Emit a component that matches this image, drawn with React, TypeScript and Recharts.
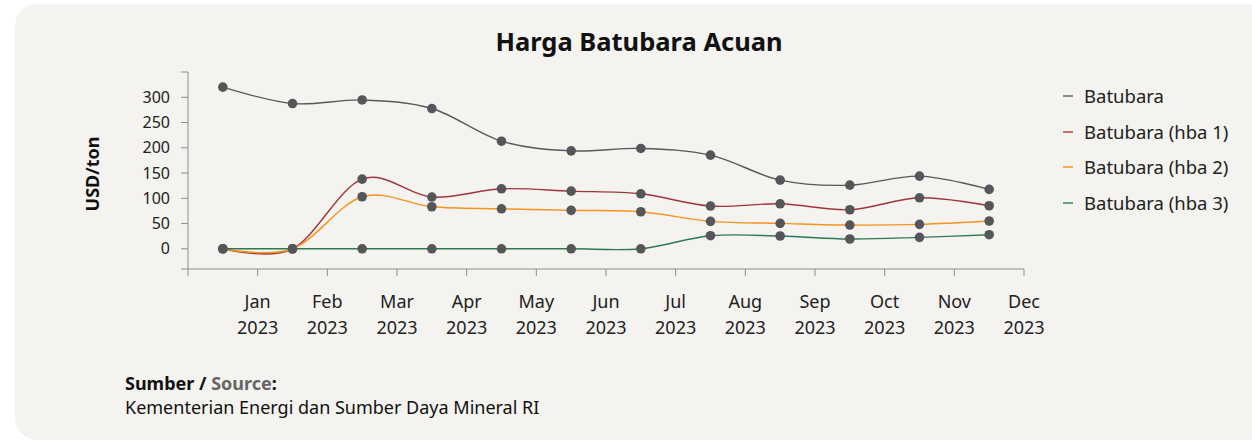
import { LineChart, Line, XAxis, YAxis } from "recharts";

const MONTHS = ["Jan", "Feb", "Mar", "Apr", "May", "Jun", "Jul", "Aug", "Sep", "Oct", "Nov", "Dec"];
const YEAR = "2023";

const BATUBARA = [320, 287.5, 294.7, 277.7, 213, 193.9, 198.6, 185.4, 136, 126, 143.9, 117.6];
const HBA1 = [0, 0, 138, 102.4, 118.8, 114.2, 108.9, 84.6, 89.1, 77.3, 101, 85.2];
const HBA2 = [0, 0, 103, 83.2, 79.2, 76.1, 73.3, 54.3, 50.4, 47, 48.4, 55];
const HBA3 = [0, 0, 0, 0, 0, 0, 0, 25.9, 25.3, 19.4, 22.7, 27.9];

const Y_TICKS = [-40, 0, 50, 100, 150, 200, 250, 300, 350];
const X_TICKS = [0, 1, 2, 3, 4, 5, 6, 7, 8, 9, 10, 11, 12];

const SERIES = [
  { key: "batubara", name: "Batubara", color: "#58585a", legend: "#8c8c8c" },
  { key: "hba1", name: "Batubara (hba 1)", color: "#a0363b", legend: "#c9706f" },
  { key: "hba2", name: "Batubara (hba 2)", color: "#f7931e", legend: "#f9ad55" },
  { key: "hba3", name: "Batubara (hba 3)", color: "#2c7a50", legend: "#62a182" },
];

const data = MONTHS.map((m, i) => ({
  pos: i + 0.5,
  month: m,
  batubara: BATUBARA[i],
  hba1: HBA1[i],
  hba2: HBA2[i],
  hba3: HBA3[i],
}));

const FONT = "'Noto Sans', 'Open Sans', sans-serif";

// catmull-rom style cardinal curve (tension 0), same maths as d3's curveCardinal
function cardinal(context: any) {
  const k = 1 / 6;
  let x0 = NaN, x1 = NaN, x2 = NaN, y0 = NaN, y1 = NaN, y2 = NaN;
  let pt = 0;
  let line: number = NaN;
  const seg = (x: number, y: number) => {
    context.bezierCurveTo(
      x1 + k * (x2 - x0),
      y1 + k * (y2 - y0),
      x2 + k * (x1 - x),
      y2 + k * (y1 - y),
      x2,
      y2
    );
  };
  return {
    areaStart() { line = 0; },
    areaEnd() { line = NaN; },
    lineStart() {
      x0 = x1 = x2 = y0 = y1 = y2 = NaN;
      pt = 0;
    },
    lineEnd() {
      if (pt === 2) context.lineTo(x2, y2);
      else if (pt === 3) seg(x1, y1);
      if (line || (line !== 0 && pt === 1)) context.closePath();
      line = 1 - line;
    },
    point(x: number, y: number) {
      x = +x; y = +y;
      if (pt === 0) {
        pt = 1;
        line ? context.lineTo(x, y) : context.moveTo(x, y);
      } else if (pt === 1) {
        pt = 2;
        x1 = x; y1 = y;
      } else {
        if (pt === 2) pt = 3;
        seg(x, y);
      }
      x0 = x1; x1 = x2; x2 = x;
      y0 = y1; y1 = y2; y2 = y;
    },
  };
}

const MonthTick = ({ x, y, payload }: any) => {
  if (payload.value === 0) return null;
  const m = MONTHS[payload.value - 1];
  return (
    <g>
      <text x={x} y={y + 30} textAnchor="middle" fontSize={18} fill="#222" fontFamily={FONT}>
        {m}
      </text>
      <text x={x} y={y + 56} textAnchor="middle" fontSize={18} fill="#222" fontFamily={FONT}>
        {YEAR}
      </text>
    </g>
  );
};

export default function App() {
  return (
    <div style={{ position: "absolute", left: 0, top: 0, width: 1252, height: 440, overflow: "hidden", background: "#fff", fontFamily: FONT }}>
      <div style={{ position: "absolute", left: 15, top: 4, width: 1260, height: 436, background: "#f4f3ef", borderRadius: 22 }} />
      <div style={{ position: "absolute", left: 0, top: 23, width: 1278, textAlign: "center", fontSize: 25.5, fontWeight: 700, color: "#111", lineHeight: "36px" }}>
        Harga Batubara Acuan
      </div>

      <div style={{ position: "absolute", left: 0, top: 0 }}>
        <LineChart width={1252} height={350} data={data} margin={{ top: 72, right: 228, left: 128, bottom: 21 }}>
          <XAxis
            dataKey="pos"
            type="number"
            domain={[0, 12]}
            ticks={X_TICKS}
            interval={0}
            tick={<MonthTick />}
            tickSize={7}
            height={60}
            stroke="#8e8e8e"
            allowDataOverflow
          />
          <YAxis
            type="number"
            domain={[-40, 350]}
            ticks={Y_TICKS}
            interval={0}
            width={60}
            tickSize={7}
            tickMargin={11}
            stroke="#8e8e8e"
            tick={{ fill: "#222", fontSize: 16, fontFamily: FONT }}
            tickFormatter={(v: number) => (v < 0 || v > 300 ? "" : String(v))}
            allowDataOverflow
          />
          {SERIES.map((s) => (
            <Line
              key={s.key}
              dataKey={s.key}
              name={s.name}
              type={cardinal as any}
              stroke={s.color}
              strokeWidth={1.4}
              dot={false}
              activeDot={false}
              isAnimationActive={false}
            />
          ))}
          {SERIES.map((s) => (
            <Line
              key={s.key + "-dots"}
              dataKey={s.key}
              legendType="none"
              stroke="none"
              dot={{ r: 4.8, fill: "#555659", stroke: "none" }}
              activeDot={false}
              isAnimationActive={false}
            />
          ))}
        </LineChart>
      </div>

      <div
        style={{
          position: "absolute",
          left: 92,
          top: 174,
          transform: "translate(-50%, -50%) rotate(-90deg)",
          fontSize: 18,
          fontWeight: 700,
          color: "#111",
          whiteSpace: "nowrap",
        }}
      >
        USD/ton
      </div>

      <div style={{ position: "absolute", left: 1063, top: 78 }}>
        {SERIES.map((s) => (
          <div key={s.key} style={{ display: "flex", alignItems: "center", height: 35.7 }}>
            <span style={{ display: "inline-block", width: 10, height: 2, background: s.legend, marginRight: 11 }} />
            <span style={{ fontSize: 18.5, color: "#222", lineHeight: "26px" }}>{s.name}</span>
          </div>
        ))}
      </div>

      <div style={{ position: "absolute", left: 125, top: 371, fontSize: 18, color: "#111", lineHeight: "24px" }}>
        <div style={{ fontWeight: 700 }}>
          Sumber / <span style={{ color: "#666" }}>Source</span>:
        </div>
        <div>Kementerian Energi dan Sumber Daya Mineral RI</div>
      </div>
    </div>
  );
}
